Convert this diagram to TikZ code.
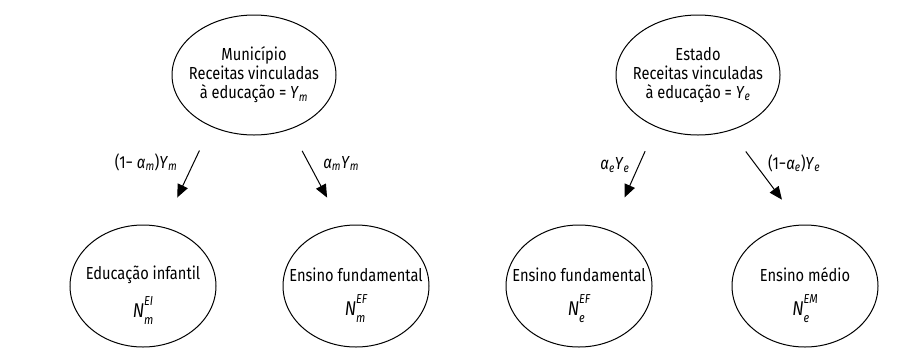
\documentclass[tikz,border=0pt]{standalone}
\usepackage{fontspec}
\setmainfont{Fira Sans}[FakeStretch=0.84]
\usetikzlibrary{arrows.meta,shapes.geometric}
\newcommand{\ysub}[2]{\textit{#1}\textsubscript{\itshape #2}}
\newcommand{\nvar}[2]{{\fontsize{20}{20}\selectfont\itshape N}%
  \rlap{\raisebox{-7bp}{\fontsize{13}{13}\selectfont\itshape #1}}%
  \raisebox{12bp}{\fontsize{13}{13}\selectfont\itshape #2}}

\begin{document}
\begin{tikzpicture}[
    x=1bp, y=-1bp,
    line width=1bp,
    every node/.style={font=\fontsize{17.5}{19}\selectfont},
    source/.style={ellipse,draw,minimum width=164bp,minimum height=120bp,
      inner sep=0pt,inner xsep=-30bp,align=center},
    level/.style={ellipse,draw,minimum width=146bp,minimum height=122bp,
      inner sep=0pt,inner xsep=-30bp,align=center},
    arrow/.style={-{Triangle[length=13bp,width=11bp]}},
    share/.style={inner sep=0pt}
  ]
    \useasboundingbox (0,0) rectangle (904,351);

    \node[source] (mun) at (254,75) {Município\\Receitas vinculadas\\à educação = \ysub{Y}{m}};
    \node[source] (est) at (698,75) {Estado\\Receitas vinculadas\\à educação = \ysub{Y}{e}};
    \node[level] (infm) at (143,286) {\rule{0pt}{32bp}Educação infantil\\[12bp]\nvar{m}{EI}};
    \node[level] (fundm) at (356,286) {\rule{0pt}{32bp}Ensino fundamental\\[12bp]\nvar{m}{EF}};
    \node[level] (funde) at (579,286) {\rule{0pt}{32bp}Ensino fundamental\\[12bp]\nvar{e}{EF}};
    \node[level] (medio) at (805,286) {\rule{0pt}{32bp}Ensino médio\\[12bp]\nvar{e}{EM}};

    \draw[arrow,shorten <=26.5bp,shorten >=32.5bp] (mun.230) --
      node[share,pos=0.355,anchor=east,xshift=-16bp] (shim) {(1− \ysub{α}{m})\ysub{Y}{m}} (infm.71);
    \draw[arrow,shorten <=24.5bp,shorten >=31.8bp] (mun.304.5) --
      node[share,pos=0.354,anchor=west,xshift=14bp] (shfm) {\ysub{α}{m}\ysub{Y}{m}} (fundm.103.4);
    \draw[arrow,shorten <=26.5bp,shorten >=35.8bp] (est.231.9) --
      node[share,pos=0.367,anchor=east,xshift=-9bp] (shfe) {\ysub{α}{e}\ysub{Y}{e}} (funde.61.8);
    \draw[arrow,shorten <=26bp,shorten >=31.2bp] (est.300.7) --
      node[share,pos=0.347,anchor=west,xshift=13bp] (shme) {(1−\ysub{α}{e})\ysub{Y}{e}} (medio.94.2);
  \end{tikzpicture}
\end{document}
